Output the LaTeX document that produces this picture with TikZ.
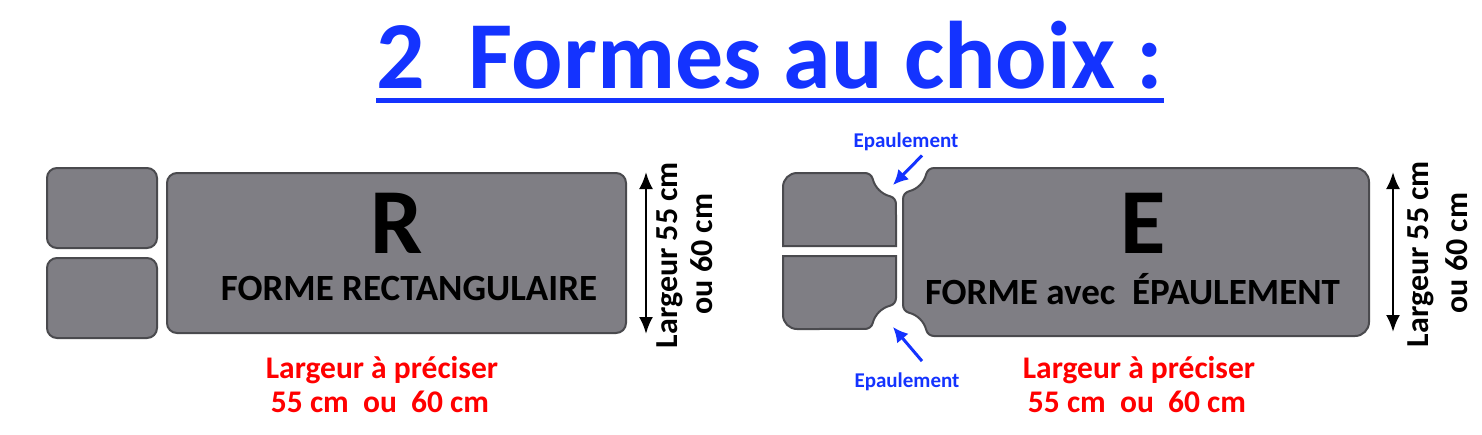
\documentclass[tikz,border=0pt]{standalone}
\usepackage{fontspec}
\setmainfont{Carlito}
\usetikzlibrary{positioning,arrows.meta}
\definecolor{Bleu}{HTML}{1433FF}
\definecolor{Rouge}{HTML}{FF0000}
\definecolor{Piece}{HTML}{7F7E84}
\definecolor{Bord}{HTML}{4A4A4E}
\tikzset{
	piecefond/.style={draw=Bord, fill=Piece, line width=2pt},
	piece/.style={piecefond, rounded corners=10pt, inner sep=0pt},
	lettre/.style={font=\fontsize{93}{100}\selectfont\bfseries, anchor=base, inner sep=0pt},
	forme/.style={font=\fontsize{37}{42}\selectfont\bfseries, anchor=base, inner sep=0pt},
	largeur/.style={text=Rouge, font=\fontsize{31.5}{34}\selectfont\bfseries, anchor=base, inner sep=0pt},
	cote/.style={font=\fontsize{32}{34}\selectfont\bfseries, anchor=base, inner sep=0pt, rotate=90},
	fleche/.style={{Latex[length=17pt,width=14pt]}-{Latex[length=17pt,width=14pt]}, line width=2.5pt},
	epaul/.style={text=Bleu, font=\fontsize{21}{24}\selectfont\bfseries, anchor=base, inner sep=0pt},
	pointe/.style={-{Latex[length=15pt,width=15pt]}, draw=Bleu, line width=3pt}
}
\begin{document}
\begin{tikzpicture}[x=1pt, y=-1pt]
	\useasboundingbox[fill=white] (0,0) rectangle (1482,434);
	
	% titre
	\node[text=Bleu, font=\fontsize{96}{100}\selectfont\bfseries, anchor=base, inner sep=0pt] (titre) at (770,88) {2\ \ Formes au choix :};
	\draw[Bleu, line width=5pt] ([yshift=-12pt]titre.base west) -- ([yshift=-12pt]titre.base east);
	
	% forme R
	\node[piece, minimum width=110pt, minimum height=80pt] (carreH) at (102,208) {};
	\node[piece, minimum width=110pt, minimum height=80pt] (carreB) at (102,298) {};
	\node[piece, minimum width=459pt, minimum height=160pt] (rectR) at (396.5,253) {};
	\node[lettre] (lettreR) at (397,253) {R};
	\node[forme] (nomR) at (409,300) {FORME RECTANGULAIRE};
	\draw[fleche] ([xshift=19pt]rectR.north east) -- ([xshift=19pt]rectR.south east);
	\node[cote] (coteR1) at (677,255) {Largeur 55 cm};
	\node[cote] (coteR2) at (712,254) {ou 60 cm};
	\node[largeur] (largR1) at (382,378) {Largeur à préciser};
	\node[largeur] (largR2) at (380,412) {55 cm\ \ ou\ \ 60 cm};
	
	% forme E
	\draw[piecefond] (783,246) -- (783,187) arc[start angle=180, end angle=270, radius=14]
		-- (865,173) arc[start angle=270, end angle=345.52, radius=8]
		arc[start angle=165.52, end angle=104.48, radius=24]
		arc[start angle=284.48, end angle=360, radius=8] -- (896,246) -- cycle;
	\draw[piecefond] (783,256) -- (896,256) -- (896,298) arc[start angle=0, end angle=75.52, radius=8]
		arc[start angle=255.52, end angle=194.48, radius=24]
		arc[start angle=14.48, end angle=90, radius=8]
		-- (797,329) arc[start angle=90, end angle=180, radius=14] -- cycle;
	\draw[piecefond] (903,199) arc[start angle=180, end angle=255.52, radius=8]
		arc[start angle=75.52, end angle=14.48, radius=24]
		arc[start angle=194.48, end angle=270, radius=8]
		-- (1355,168) arc[start angle=270, end angle=360, radius=14]
		-- (1369,322) arc[start angle=0, end angle=90, radius=14]
		-- (934,336) arc[start angle=90, end angle=165.52, radius=8]
		arc[start angle=345.52, end angle=284.48, radius=24]
		arc[start angle=104.48, end angle=180, radius=8] -- cycle;
	\node[lettre] (lettreE) at (1143.5,253) {E};
	\node[forme] (nomE) at (1132.5,304) {FORME avec\ \ ÉPAULEMENT};
	\coordinate (hautE) at (1393,172);
	\coordinate (basE) at (1393,332);
	\draw[fleche] (hautE) -- (basE);
	\node[cote] (coteE1) at (1428,254) {Largeur 55 cm};
	\node[cote] (coteE2) at (1467,253) {ou 60 cm};
	\node[largeur] (largE1) at (1139,378) {Largeur à préciser};
	\node[largeur] (largE2) at (1137,412) {55 cm\ \ ou\ \ 60 cm};
	
	% epaulements
	\node[epaul] (epH) at (906,147) {Epaulement};
	\node[epaul] (epB) at (907,387) {Epaulement};
	\coordinate (coinH) at (893,185);
	\coordinate (coinB) at (893,327);
	\draw[pointe] ([xshift=16pt,yshift=-5pt]epH.south) -- (coinH);
	\draw[pointe] ([xshift=15pt,yshift=11pt]epB.north) -- (coinB);
\end{tikzpicture}
\end{document}
